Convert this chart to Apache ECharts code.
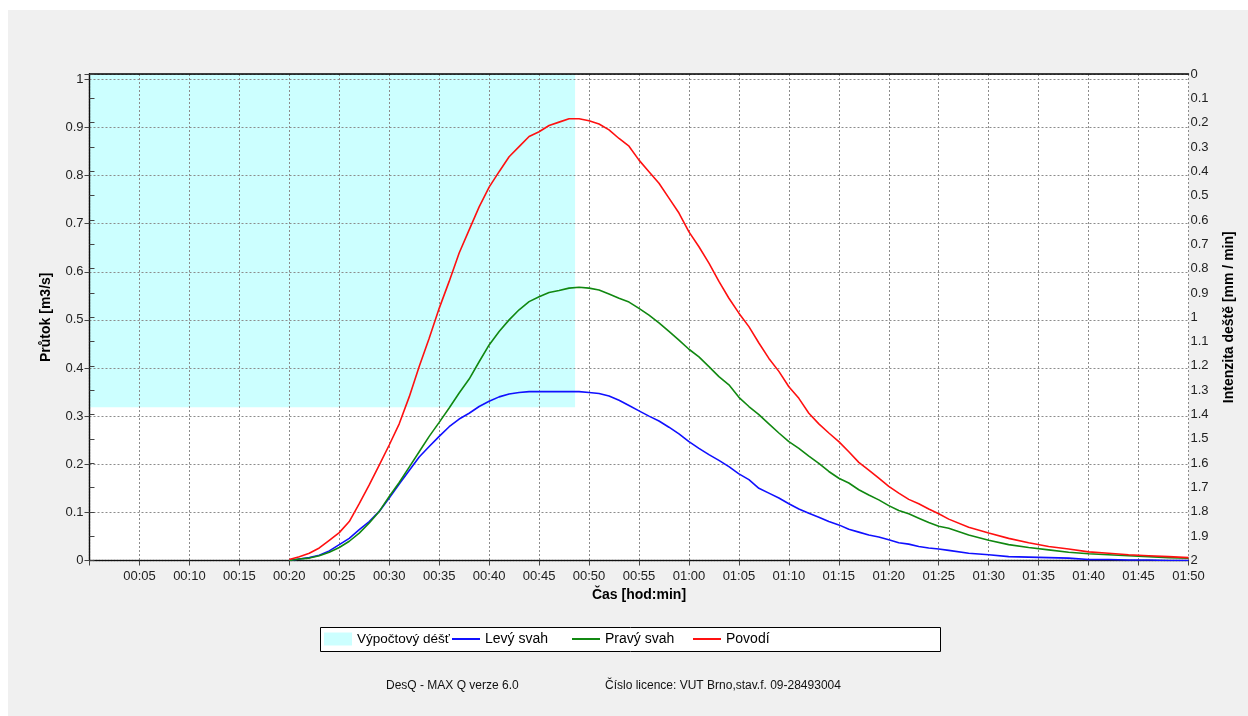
<!DOCTYPE html>
<html>
<head>
<meta charset="utf-8">
<script src="https://cdn.jsdelivr.net/npm/echarts@6/dist/echarts.min.js"></script>
<style>
html,body{margin:0;padding:0;background:#ffffff;}
#chart{width:1248px;height:716px;}
</style>
</head>
<body>
<div id="chart"></div>
<script>
// ---- data ----
const times = [20,21,22,23,24,25,26,27,28,29,30,31,32,33,34,35,36,37,38,39,40,41,42,43,44,45,46,47,48,49,50,51,52,53,54,55,56,57,58,59,60,61,62,63,64,65,66,67,68,69,70,71,72,73,74,75,76,77,78,79,80,81,82,83,84,85,86,88,90,92,94,96,98,100,102,104,106,108,110];
const povodi = [0.002,0.008,0.015,0.026,0.042,0.058,0.081,0.118,0.157,0.198,0.240,0.284,0.340,0.403,0.462,0.524,0.580,0.639,0.687,0.735,0.776,0.808,0.839,0.860,0.881,0.891,0.904,0.911,0.918,0.918,0.914,0.907,0.895,0.877,0.861,0.832,0.808,0.784,0.753,0.722,0.683,0.652,0.618,0.580,0.545,0.514,0.486,0.452,0.420,0.393,0.361,0.337,0.306,0.284,0.265,0.247,0.226,0.204,0.188,0.171,0.154,0.140,0.127,0.118,0.107,0.097,0.086,0.069,0.057,0.046,0.037,0.029,0.024,0.018,0.015,0.012,0.010,0.008,0.006];
const pravySvah = [0,0.003,0.005,0.010,0.017,0.027,0.040,0.057,0.078,0.102,0.133,0.162,0.194,0.226,0.258,0.287,0.317,0.348,0.377,0.413,0.448,0.476,0.500,0.521,0.538,0.548,0.557,0.561,0.566,0.568,0.566,0.562,0.554,0.545,0.537,0.524,0.510,0.494,0.476,0.458,0.439,0.423,0.403,0.382,0.365,0.339,0.320,0.303,0.284,0.265,0.247,0.233,0.217,0.202,0.185,0.171,0.161,0.147,0.136,0.126,0.114,0.104,0.097,0.088,0.079,0.071,0.067,0.053,0.042,0.033,0.027,0.022,0.017,0.014,0.012,0.010,0.008,0.006,0.005];
const levySvah = [0,0.003,0.006,0.011,0.020,0.033,0.046,0.064,0.081,0.102,0.130,0.159,0.187,0.215,0.237,0.258,0.278,0.294,0.306,0.320,0.331,0.340,0.346,0.349,0.351,0.351,0.351,0.351,0.351,0.351,0.349,0.347,0.342,0.333,0.322,0.311,0.300,0.290,0.277,0.263,0.247,0.233,0.220,0.208,0.195,0.180,0.168,0.150,0.140,0.130,0.118,0.107,0.098,0.090,0.081,0.074,0.065,0.059,0.053,0.049,0.043,0.037,0.034,0.029,0.026,0.024,0.021,0.015,0.012,0.008,0.007,0.006,0.005,0.002,0.002,0.001,0.001,0,0];
const rainTimes = [0, 48.6];
const rainIntensity = [1.37, 1.37];
const seriesNames = ['Výpočtový déšť','Levý svah','Pravý svah','Povodí'];
const footerLeft = 'DesQ - MAX Q verze 6.0';
const footerRight = 'Číslo licence: VUT Brno,stav.f. 09-28493004';

function pairs(xs, ys){ return xs.map((x,i)=>[x, ys[i]]); }
function hhmm(v){ if (v === 0) return ''; const h = Math.floor(v/60), m = Math.round(v - h*60); return String(h).padStart(2,'0') + ':' + String(m).padStart(2,'0'); }

const FONT = '"Liberation Sans", Arial, sans-serif';
const chart = echarts.init(document.getElementById('chart'), null, {renderer:'canvas'});
const gridLine = {show:true, lineStyle:{color:'#8c8c8c', type:[2,2], width:1}};
const axisLineStyle = {show:true, lineStyle:{color:'#111', type:[2,1], width:1.3}};
const lineIcon = 'path://M0,0 L28,0 L28,2 L0,2 Z';
const legendLefts = [324, 452, 572, 693];

function legendAt(i, icon, fs){
  return {left:legendLefts[i], top:632, itemWidth:28, itemHeight:13, padding:0, zlevel:1,
    textStyle:{fontSize:fs, color:'#000', fontFamily:FONT},
    data:[{name:seriesNames[i], icon:icon}]};
}

chart.setOption({
  animation:false,
  backgroundColor:'#ffffff',
  textStyle:{fontFamily:FONT},
  graphic:[
    {type:'rect', z:-10, shape:{x:8, y:10, width:1240, height:706}, style:{fill:'#f0f0f0'}, silent:true},
    {type:'rect', z:-5, shape:{x:320.5, y:627.5, width:620, height:24}, style:{fill:'#ffffff', stroke:'#000', lineWidth:1}, silent:true},
    {type:'text', left:386, top:680, style:{text:footerLeft, font:'12px ' + FONT, fill:'#111'}},
    {type:'text', left:605, top:680, style:{text:footerRight, font:'12px ' + FONT, fill:'#111'}}
  ],
  grid:{left:89.5, right:59.5, top:74, bottom:155.5, show:true, backgroundColor:'#ffffff', borderWidth:0, containLabel:false},
  legend:[legendAt(0,'rect',13.5), legendAt(1,lineIcon,14), legendAt(2,lineIcon,14), legendAt(3,lineIcon,14)],
  xAxis:[
    {type:'value', min:0, max:110, interval:5, zlevel:1,
     name:'Čas [hod:min]', nameLocation:'middle', nameGap:28,
     nameTextStyle:{fontSize:14, fontWeight:'bold', color:'#000'},
     axisLine:axisLineStyle,
     axisTick:{show:true, length:5, lineStyle:{color:'#444'}},
     axisLabel:{formatter:hhmm, fontSize:13, color:'#222', margin:9},
     splitLine:gridLine},
    {type:'value', min:0, max:110, position:'top', zlevel:1,
     axisLine:{show:true, lineStyle:{color:'#000', width:1.5}},
     axisTick:{show:false}, axisLabel:{show:false}, splitLine:{show:false}}
  ],
  yAxis:[
    {type:'value', min:0, max:1.011, interval:0.1, zlevel:1,
     name:'Průtok [m3/s]', nameLocation:'middle', nameGap:36, nameRotate:90,
     nameTextStyle:{fontSize:14, fontWeight:'bold', color:'#000'},
     axisLine:axisLineStyle,
     axisTick:{show:true, length:5, lineStyle:{color:'#444'}},
     axisLabel:{fontSize:13, color:'#222', margin:6,
       formatter:function(v){ return Math.abs(v*10 - Math.round(v*10)) < 1e-6 ? String(Math.round(v*10)/10) : ''; }},
     splitLine:gridLine},
    {type:'value', min:0, max:2, interval:0.1, inverse:true, position:'right', zlevel:1,
     name:'Intenzita deště [mm / min]', nameLocation:'middle', nameGap:34, nameRotate:90,
     nameTextStyle:{fontSize:14, fontWeight:'bold', color:'#000'},
     axisLine:axisLineStyle,
     axisTick:{show:true, length:5, lineStyle:{color:'#444'}},
     axisLabel:{fontSize:13, color:'#222', margin:2,
       formatter:function(v){ return String(Math.round(v*10)/10); }},
     splitLine:{show:false}}
  ],
  series:[
    {name:seriesNames[0], type:'line', xAxisIndex:0, yAxisIndex:1, zlevel:0, z:1,
     data:pairs(rainTimes, rainIntensity), symbol:'none',
     lineStyle:{width:0, color:'#ccffff'}, itemStyle:{color:'#ccffff'},
     areaStyle:{color:'#ccffff', opacity:1, origin:'start'}},
    {name:seriesNames[1], type:'line', xAxisIndex:0, yAxisIndex:0, zlevel:1, z:5,
     data:pairs(times, levySvah), symbol:'none', lineStyle:{width:1.6, color:'#1010ff'}, itemStyle:{color:'#1010ff'}},
    {name:seriesNames[2], type:'line', xAxisIndex:0, yAxisIndex:0, zlevel:1, z:5,
     data:pairs(times, pravySvah), symbol:'none', lineStyle:{width:1.6, color:'#118811'}, itemStyle:{color:'#118811'}},
    {name:seriesNames[3], type:'line', xAxisIndex:0, yAxisIndex:0, zlevel:1, z:6,
     data:pairs(times, povodi), symbol:'none', lineStyle:{width:1.6, color:'#ff1010'}, itemStyle:{color:'#ff1010'}}
  ]
});
</script>
</body>
</html>
